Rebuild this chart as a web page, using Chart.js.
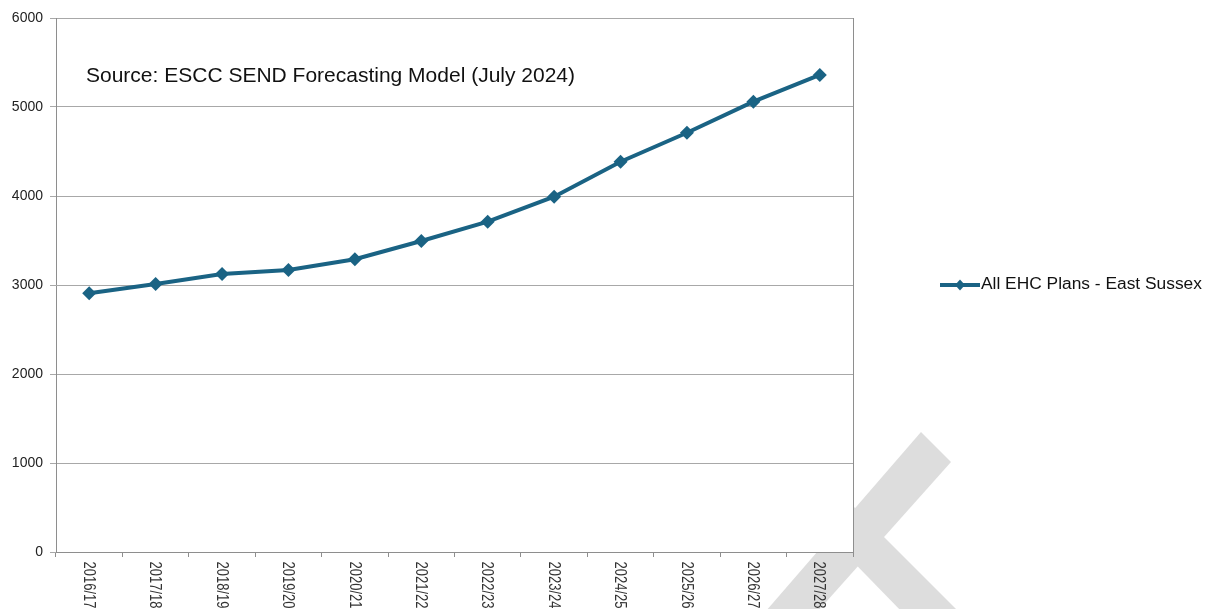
<!DOCTYPE html>
<html>
<head>
<meta charset="utf-8">
<title>All EHC Plans - East Sussex</title>
<script src="https://cdn.jsdelivr.net/npm/chart.js@4"></script>
<style>
  html, body { margin: 0; padding: 0; background: #fff; }
  #wrap { width: 1206px; height: 609px; position: relative; }
</style>
</head>
<body>
<div id="wrap"><canvas id="ehc-chart" width="1206" height="609"></canvas></div>
<script>
// academic years on the x axis
const seasons = ['2016/17', '2017/18', '2018/19', '2019/20', '2020/21', '2021/22',
                 '2022/23', '2023/24', '2024/25', '2025/26', '2026/27', '2027/28'];
// number of EHC plans (actuals then forecast)
const ehcPlans = [2907, 3011, 3124, 3169, 3289, 3494, 3711, 3992, 4385, 4711, 5060, 5360];
const seriesName = 'All EHC Plans - East Sussex';
const sourceNote = 'Source: ESCC SEND Forecasting Model (July 2024)';
const yMin = 0;
const yMax = 6000;
const yStep = 1000;

const lineColor = '#1a6384';
const frameColor = '#8e8e8e';
const fontFamily = "'Liberation Sans', Arial, sans-serif";

// grey cross mark sitting behind the plot, bottom right
const crossArms = [
    [[921, 432], [951, 462], [818, 611], [766, 611]],
    [[830, 483], [962, 615], [905, 615], [830, 538]]
];

const decor = {
    id: 'decor',
    beforeDraw(chart) {
        const ctx = chart.ctx;
        const area = chart.chartArea;
        ctx.save();
        ctx.fillStyle = '#fff';
        ctx.fillRect(0, 0, chart.width, chart.height);

        ctx.fillStyle = '#dddddd';
        crossArms.forEach(pts => {
            ctx.beginPath();
            ctx.moveTo(pts[0][0], pts[0][1]);
            for (let i = 1; i < pts.length; i++) ctx.lineTo(pts[i][0], pts[i][1]);
            ctx.closePath();
            ctx.fill();
        });

        // plot area is plain white
        ctx.fillStyle = '#fff';
        ctx.fillRect(area.left, area.top, area.right - area.left, area.bottom - area.top);
        ctx.restore();
    },
    beforeDatasetsDraw(chart) {
        const ctx = chart.ctx;
        const area = chart.chartArea;
        const xScale = chart.scales.x;

        ctx.save();
        // right edge of the frame
        ctx.strokeStyle = frameColor;
        ctx.lineWidth = 1;
        ctx.beginPath();
        ctx.moveTo(Math.round(area.right) + 0.5, area.top);
        ctx.lineTo(Math.round(area.right) + 0.5, area.bottom);
        ctx.stroke();

        // year labels, turned to read downwards
        ctx.fillStyle = '#333';
        ctx.font = '13px ' + fontFamily;
        ctx.textAlign = 'left';
        ctx.textBaseline = 'middle';
        seasons.forEach((s, i) => {
            ctx.save();
            ctx.translate(xScale.getPixelForValue(i) - 1, area.bottom + 9.5);
            ctx.scale(1.2, 1);
            ctx.rotate(Math.PI / 2);
            ctx.fillText(s, 0, 0);
            ctx.restore();
        });

        // source note inside the plot
        ctx.fillStyle = '#111';
        ctx.font = '21px ' + fontFamily;
        ctx.textBaseline = 'alphabetic';
        ctx.fillText(sourceNote, area.left + 30, area.top + 64);

        // legend: line with a diamond, then the series name
        const ly = (area.top + area.bottom) / 2;
        const lx = area.right + 87;
        ctx.strokeStyle = lineColor;
        ctx.lineWidth = 4;
        ctx.beginPath();
        ctx.moveTo(lx, ly);
        ctx.lineTo(lx + 40, ly);
        ctx.stroke();
        ctx.fillStyle = lineColor;
        ctx.beginPath();
        ctx.moveTo(lx + 20, ly - 5.5);
        ctx.lineTo(lx + 25, ly);
        ctx.lineTo(lx + 20, ly + 5.5);
        ctx.lineTo(lx + 15, ly);
        ctx.closePath();
        ctx.fill();

        ctx.fillStyle = '#111';
        ctx.font = '16px ' + fontFamily;
        ctx.textBaseline = 'middle';
        ctx.save();
        ctx.translate(lx + 41, ly);
        ctx.scale(1.085, 1);
        ctx.fillText(seriesName, 0, 0);
        ctx.restore();

        ctx.restore();
    }
};

new Chart(document.getElementById('ehc-chart'), {
    type: 'line',
    data: {
        labels: seasons,
        datasets: [{
            label: seriesName,
            data: ehcPlans,
            borderColor: lineColor,
            backgroundColor: lineColor,
            borderWidth: 4,
            tension: 0,
            pointStyle: 'rectRot',
            pointRadius: 7,
            pointBorderWidth: 0,
            pointBackgroundColor: lineColor
        }]
    },
    options: {
        responsive: false,
        animation: false,
        events: [],
        layout: { padding: { top: 18, right: 353, left: 0, bottom: 0 } },
        plugins: {
            legend: { display: false },
            tooltip: { enabled: false }
        },
        scales: {
            x: {
                type: 'category',
                offset: true,
                grid: {
                    offset: true,
                    drawOnChartArea: false,
                    drawTicks: true,
                    tickLength: 5,
                    color: frameColor
                },
                border: { display: true, color: frameColor },
                ticks: { display: false },
                afterFit(scale) { scale.height = 57; }
            },
            y: {
                min: yMin,
                max: yMax,
                ticks: {
                    stepSize: yStep,
                    color: '#222',
                    padding: 7,
                    font: { family: fontFamily, size: 14 },
                    // plain numbers, no thousands separator
                    callback: v => String(v)
                },
                grid: {
                    color: '#a8a8a8',
                    tickLength: 6,
                    drawTicks: true
                },
                border: { display: true, color: frameColor },
                afterFit(scale) { scale.width = 56; }
            }
        }
    },
    plugins: [decor]
});
</script>
</body>
</html>
